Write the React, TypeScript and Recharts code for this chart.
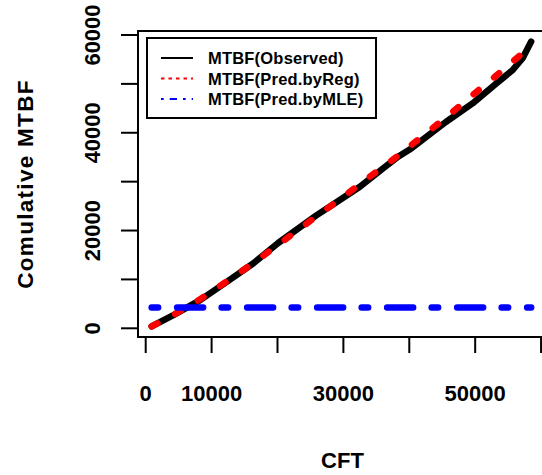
import { LineChart, Line, XAxis, YAxis, ReferenceArea, Legend, Label } from 'recharts';

const CFT = [900, 4200, 8200, 12300, 16300, 20100, 25900, 29400, 32500, 36000, 38300, 40300, 45600, 49600, 53200, 55700, 57200, 58500];
const OBSERVED = [400, 2700, 5700, 9500, 13250, 17450, 23100, 26200, 28950, 32700, 35100, 36800, 42250, 46000, 50100, 52850, 55250, 58650];
const PRED_REG = [400, 2700, 5900, 9600, 13300, 17100, 22900, 26300, 29500, 33000, 35300, 37500, 43150, 47700, 51700, 54600, 56300, 57800];
const PRED_MLE = [4240, 4240, 4240, 4240, 4240, 4240, 4240, 4240, 4240, 4240, 4240, 4240, 4240, 4240, 4240, 4240, 4240, 4240];

const X_DOMAIN = [-1170, 60900];
const Y_DOMAIN = [-1780, 60820];
const X_TICKS = [0, 10000, 20000, 30000, 40000, 50000, 60000];
const X_LABELS = [0, 10000, 30000, 50000];
const Y_TICKS = [0, 10000, 20000, 30000, 40000, 50000, 60000];
const Y_LABELS = [0, 20000, 40000, 60000];

const FONT = '"Liberation Sans", Arial, Helvetica, sans-serif';

const SERIES = [
  { key: 'observed', name: 'MTBF(Observed)', color: '#000000', dash: undefined, legendDash: undefined },
  { key: 'predReg', name: 'MTBF(Pred.byReg)', color: '#ff0000', dash: '6.6 19.9', legendDash: '3.5 4' },
  { key: 'predMle', name: 'MTBF(Pred.byMLE)', color: '#0000ff', dash: '6.5 19 26 18.5', legendDash: '2.7 6 7.3 6' },
];

const data = CFT.map((cft, i) => ({
  cft,
  observed: OBSERVED[i],
  predReg: PRED_REG[i],
  predMle: PRED_MLE[i],
}));

function XTick({ x, y, payload }: any) {
  if (!X_LABELS.includes(payload.value)) return <g />;
  return (
    <text x={x} y={y + 48} textAnchor="middle" fontFamily={FONT} fontWeight="bold" fontSize={22} fill="#000">
      {payload.value}
    </text>
  );
}

function YTick({ x, y, payload }: any) {
  if (!Y_LABELS.includes(payload.value)) return <g />;
  const bx = x - 21;
  return (
    <text x={bx} y={y} transform={`rotate(-90, ${bx}, ${y})`} textAnchor="middle" fontFamily={FONT} fontWeight="bold" fontSize={22} fill="#000">
      {payload.value}
    </text>
  );
}

function LegendBox() {
  return (
    <svg width={231} height={82} style={{ display: 'block' }}>
      <rect x={1} y={1} width={229} height={80} fill="#fff" stroke="#000" strokeWidth={2} />
      {SERIES.map((s, i) => {
        const cy = 21 + i * 20.5;
        return (
          <g key={s.key}>
            <line x1={15} x2={47} y1={cy} y2={cy} stroke={s.color} strokeWidth={2} strokeDasharray={s.legendDash} />
            <text x={62} y={cy + 6} fontFamily={FONT} fontWeight="bold" fontSize={16.5} letterSpacing={0.2} fill="#000">
              {s.name}
            </text>
          </g>
        );
      })}
    </svg>
  );
}

export default function App() {
  return (
    <div style={{ position: 'absolute', left: 0, top: 0, width: 542, height: 475, overflow: 'hidden', background: '#fff' }}>
      <LineChart width={560} height={475} data={data} margin={{ top: 31, right: 13, bottom: 0, left: 0 }}>
        <XAxis
          dataKey="cft"
          type="number"
          domain={X_DOMAIN}
          ticks={X_TICKS}
          interval={0}
          allowDataOverflow
          height={138}
          axisLine={false}
          tickLine={{ stroke: '#000', strokeWidth: 2 }}
          tickSize={16}
          tickMargin={0}
          tick={<XTick />}
        >
          <Label
            content={({ viewBox }: any) => (
              <text x={viewBox.x + viewBox.width / 2} y={viewBox.y + 131} textAnchor="middle" fontFamily={FONT} fontWeight="bold" fontSize={22} fill="#000">
                CFT
              </text>
            )}
          />
        </XAxis>
        <YAxis
          type="number"
          domain={Y_DOMAIN}
          ticks={Y_TICKS}
          interval={0}
          allowDataOverflow
          width={138}
          axisLine={false}
          tickLine={{ stroke: '#000', strokeWidth: 2 }}
          tickSize={17}
          tickMargin={0}
          tick={<YTick />}
        >
          <Label
            content={({ viewBox }: any) => {
              const cx = 33;
              const cy = viewBox.y + viewBox.height / 2;
              return (
                <text x={cx} y={cy} transform={`rotate(-90, ${cx}, ${cy})`} textAnchor="middle" fontFamily={FONT} fontWeight="bold" fontSize={22.5} letterSpacing={1.3} fill="#000">
                  Comulative MTBF
                </text>
              );
            }}
          />
        </YAxis>
        <ReferenceArea
          x1={X_DOMAIN[0]}
          x2={X_DOMAIN[1]}
          y1={Y_DOMAIN[0]}
          y2={Y_DOMAIN[1]}
          ifOverflow="visible"
          fill="none"
          fillOpacity={0}
          stroke="#000"
          strokeWidth={2}
        />
        {SERIES.map((s) => (
          <Line
            key={s.key}
            dataKey={s.key}
            name={s.name}
            type="linear"
            stroke={s.color}
            strokeWidth={6.5}
            strokeDasharray={s.dash}
            strokeLinecap="round"
            strokeLinejoin="round"
            dot={false}
            activeDot={false}
            isAnimationActive={false}
          />
        ))}
        <Legend
          layout="vertical"
          align="center"
          verticalAlign="middle"
          content={<LegendBox />}
          wrapperStyle={{ left: 146, top: 37, width: 231, height: 82 }}
        />
      </LineChart>
    </div>
  );
}
